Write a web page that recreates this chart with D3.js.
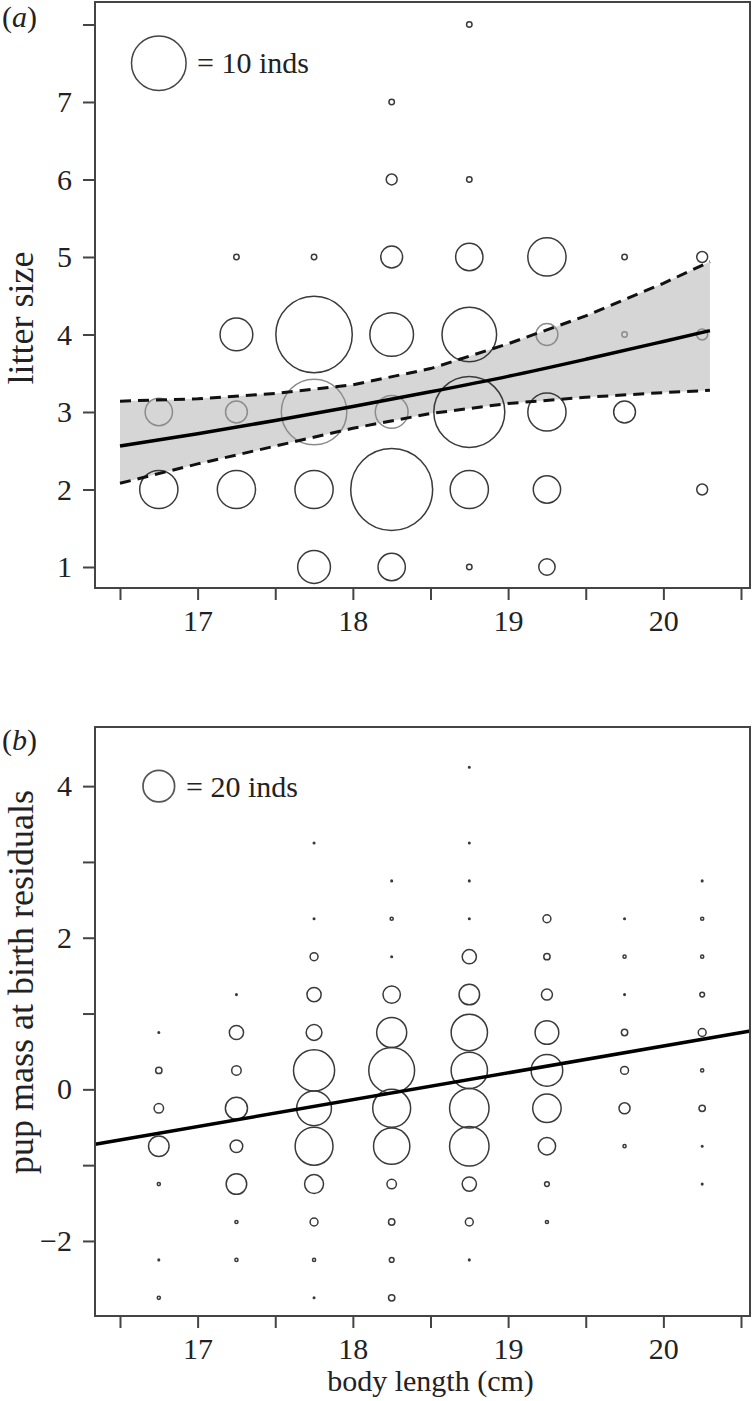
<!DOCTYPE html>
<html>
<head>
<meta charset="utf-8">
<script src="https://cdn.jsdelivr.net/npm/d3@7"></script>
<style>
  html, body { margin: 0; padding: 0; background: #fff; }
  svg { display: block; }
  text { font-family: "Liberation Serif", "Times New Roman", serif; fill: #222; }
</style>
</head>
<body>
<svg id="chart" width="756" height="1401"></svg>
<script>
// ---------------- DATA ----------------
// shared x axis (body length, cm)
const xTicks = [16.5, 17, 17.5, 18, 18.5, 19, 19.5, 20, 20.5];
const xTickLabels = ["", "17", "", "18", "", "19", "", "20", ""];

// Panel (a): litter size vs body length, bubble = number of individuals
const aLength = [16.75,16.75, 17.25,17.25,17.25,17.25, 17.75,17.75,17.75,17.75,17.75,
                 18.25,18.25,18.25,18.25,18.25,18.25,18.25, 18.75,18.75,18.75,18.75,18.75,18.75,18.75,
                 19.25,19.25,19.25,19.25,19.25, 19.75,19.75,19.75, 20.25,20.25,20.25];
const aLitter = [3,2, 5,4,3,2, 5,4,3,2,1,
                 7,6,5,4,3,2,1, 8,6,5,4,3,2,1,
                 5,4,3,2,1, 5,4,3, 5,4,2];
const aCount  = [5,7, 1,6,4,7, 1,14,12,7,6,
                 1,2,4,8,6,15,5, 1,1,5,10,13,7,1,
                 7,4,7,5,3, 1,1,4, 2,2,2];
const aYTicks = [1, 2, 3, 4, 5, 6, 7, 8];
const aYTickLabels = ["1", "2", "3", "4", "5", "6", "7", ""];
// fitted curve and 95% CI
const aFitX   = [16.5, 17, 17.5, 18, 18.5, 19, 19.5, 20, 20.3];
const aFit    = [2.56, 2.72, 2.89, 3.07, 3.26, 3.46, 3.68, 3.91, 4.05];
const aUpper  = [3.14, 3.17, 3.24, 3.35, 3.56, 3.88, 4.24, 4.66, 4.94];
const aLower  = [2.08, 2.33, 2.56, 2.79, 2.98, 3.11, 3.19, 3.25, 3.28];
const aLegend = {x: 16.75, y: 7.5, count: 10, label: "= 10 inds"};

// Panel (b): pup mass at birth residuals vs body length
const bLength = [
  16.75,16.75,16.75,16.75,16.75,16.75,16.75,
  17.25,17.25,17.25,17.25,17.25,17.25,17.25,17.25,
  17.75,17.75,17.75,17.75,17.75,17.75,17.75,17.75,17.75,17.75,17.75,17.75,
  18.25,18.25,18.25,18.25,18.25,18.25,18.25,18.25,18.25,18.25,18.25,18.25,
  18.75,18.75,18.75,18.75,18.75,18.75,18.75,18.75,18.75,18.75,18.75,18.75,18.75,
  19.25,19.25,19.25,19.25,19.25,19.25,19.25,19.25,19.25,
  19.75,19.75,19.75,19.75,19.75,19.75,19.75,
  20.25,20.25,20.25,20.25,20.25,20.25,20.25,20.25,20.25];
const bResid = [
  0.75,0.25,-0.25,-0.75,-1.25,-2.25,-2.75,
  1.25,0.75,0.25,-0.25,-0.75,-1.25,-1.75,-2.25,
  3.25,2.25,1.75,1.25,0.75,0.25,-0.25,-0.75,-1.25,-1.75,-2.25,-2.75,
  2.75,2.25,1.75,1.25,0.75,0.25,-0.25,-0.75,-1.25,-1.75,-2.25,-2.75,
  4.25,3.25,2.75,2.25,1.75,1.25,0.75,0.25,-0.25,-0.75,-1.25,-1.75,-2.25,
  2.25,1.75,1.25,0.75,0.25,-0.25,-0.75,-1.25,-1.75,
  2.25,1.75,1.25,0.75,0.25,-0.25,-0.75,
  2.75,2.25,1.75,1.25,0.75,0.25,-0.25,-0.75,-1.25];
const bCount = [
  1,4,6,13,2,1,2,
  1,9,6,14,8,13,2,2,
  1,1,5,9,10,26,22,24,12,5,2,1,
  1,2,1,11,19,29,24,23,6,4,3,4,
  1,1,1,1,9,13,23,23,25,25,9,5,1,
  5,4,7,15,20,18,11,3,2,
  1,2,1,4,5,7,2,
  1,2,2,3,5,2,4,1,1];
const bYTicks = [-2, -1, 0, 1, 2, 3, 4];
const bYTickLabels = ["\u22122", "", "0", "", "2", "", "4"];
const bLineX = [16.34, 20.56];
const bLineY = [-0.725, 0.77];
const bLegend = {x: 16.75, y: 4.0, count: 20, label: "= 20 inds"};

// ---------------- DRAW ----------------
const svg = d3.select("#chart");
const FONT = 30;
const LABEL_FONT = 36;

const x = d3.scaleLinear().domain([16.339, 20.558]).range([95, 750]);
const yA = d3.scaleLinear().domain([0.729, 8.29]).range([588, 2]);
const yB = d3.scaleLinear().domain([-2.99, 4.78]).range([1316, 727]);
const rA = d3.scaleLinear().domain([0, 10]).range([0, 27.3]);
const rB = d3.scaleLinear().domain([0, 20]).range([0, 15.8]);

function drawAxes(y, yTicks, yLabels, top, bottom) {
  const gx = svg.append("g").attr("transform", `translate(0,${bottom})`)
    .call(d3.axisBottom(x).tickValues(xTicks).tickSize(12).tickSizeOuter(0).tickPadding(10)
      .tickFormat((d, i) => xTickLabels[i]));
  gx.select(".domain").remove();
  const gy = svg.append("g").attr("transform", `translate(95,0)`)
    .call(d3.axisLeft(y).tickValues(yTicks).tickSize(12).tickSizeOuter(0).tickPadding(11)
      .tickFormat((d, i) => yLabels[i]));
  gy.select(".domain").remove();
  [gx, gy].forEach(g => {
    g.selectAll("line").attr("stroke", "#444").attr("stroke-width", 2);
    g.selectAll("text").attr("font-size", FONT).attr("font-family", "Liberation Serif").attr("fill", "#222");
  });
  svg.append("rect").attr("x", 95).attr("y", top).attr("width", 750 - 95).attr("height", bottom - top)
    .attr("fill", "none").attr("stroke", "#444").attr("stroke-width", 2);
}

// ----- Panel (a) -----
const bandLo = d3.scaleLinear().domain(aFitX).range(aLower);
const bandHi = d3.scaleLinear().domain(aFitX).range(aUpper);

const areaA = d3.area().x((d, i) => x(aFitX[i])).y0((d, i) => yA(aLower[i])).y1((d, i) => yA(aUpper[i]));
svg.append("path").datum(aFitX).attr("d", areaA).attr("fill", "#d6d6d6");

const aData = aLength.map((v, i) => ({x: v, y: aLitter[i], n: aCount[i]}));
svg.append("g").selectAll("circle").data(aData).join("circle")
  .attr("cx", d => x(d.x)).attr("cy", d => yA(d.y)).attr("r", d => rA(d.n))
  .attr("fill", "none")
  .attr("stroke", d => (d.x <= 20.3 && d.y >= bandLo(d.x) && d.y <= bandHi(d.x)) ? "#8c8c8c" : "#3a3a3a")
  .attr("stroke-width", 1.5);

const lineA = (vals) => d3.line().x((d, i) => x(aFitX[i])).y((d, i) => yA(vals[i]))(aFitX);
svg.append("path").attr("d", lineA(aUpper)).attr("fill", "none").attr("stroke", "#111")
  .attr("stroke-width", 3).attr("stroke-dasharray", "11,7");
svg.append("path").attr("d", lineA(aLower)).attr("fill", "none").attr("stroke", "#111")
  .attr("stroke-width", 3).attr("stroke-dasharray", "11,7");
svg.append("path").attr("d", d3.line().curve(d3.curveMonotoneX).x((d, i) => x(aFitX[i])).y((d, i) => yA(aFit[i]))(aFitX))
  .attr("fill", "none").attr("stroke", "#000").attr("stroke-width", 3.5);

// legend a
svg.append("circle").attr("cx", x(aLegend.x)).attr("cy", yA(aLegend.y)).attr("r", rA(aLegend.count))
  .attr("fill", "none").attr("stroke", "#444").attr("stroke-width", 1.5);
svg.append("text").attr("x", 197).attr("y", yA(aLegend.y) + 10).attr("font-size", FONT).text(aLegend.label);

drawAxes(yA, aYTicks, aYTickLabels, 2, 588);

svg.append("text").attr("transform", "translate(33,318) rotate(-90)").attr("text-anchor", "middle")
  .attr("font-size", LABEL_FONT).text("litter size");
const la = svg.append("text").attr("x", 2).attr("y", 27).attr("font-size", FONT);
la.append("tspan").text("(");
la.append("tspan").attr("font-style", "italic").text("a");
la.append("tspan").text(")");

// ----- Panel (b) -----
const bData = bLength.map((v, i) => ({x: v, y: bResid[i], n: bCount[i]}));
svg.append("g").selectAll("circle").data(bData).join("circle")
  .attr("cx", d => x(d.x)).attr("cy", d => yB(d.y)).attr("r", d => rB(d.n))
  .attr("fill", "none").attr("stroke", "#3a3a3a").attr("stroke-width", 1.5);

svg.append("path").attr("d", d3.line().x(d => x(d)).y((d, i) => yB(bLineY[i]))(bLineX))
  .attr("fill", "none").attr("stroke", "#000").attr("stroke-width", 3.5);

svg.append("circle").attr("cx", x(bLegend.x)).attr("cy", yB(bLegend.y)).attr("r", rB(bLegend.count))
  .attr("fill", "none").attr("stroke", "#555").attr("stroke-width", 1.7);
svg.append("text").attr("x", 186).attr("y", yB(bLegend.y) + 11).attr("font-size", FONT).text(bLegend.label);

drawAxes(yB, bYTicks, bYTickLabels, 727, 1316);

svg.append("text").attr("transform", "translate(33,982) rotate(-90)").attr("text-anchor", "middle")
  .attr("font-size", LABEL_FONT).text("pup mass at birth residuals");
svg.append("text").attr("x", x(18.5)).attr("y", 1391).attr("text-anchor", "middle")
  .attr("font-size", FONT).text("body length (cm)");
const lb = svg.append("text").attr("x", 2).attr("y", 750).attr("font-size", FONT);
lb.append("tspan").text("(");
lb.append("tspan").attr("font-style", "italic").text("b");
lb.append("tspan").text(")");
</script>
</body>
</html>
